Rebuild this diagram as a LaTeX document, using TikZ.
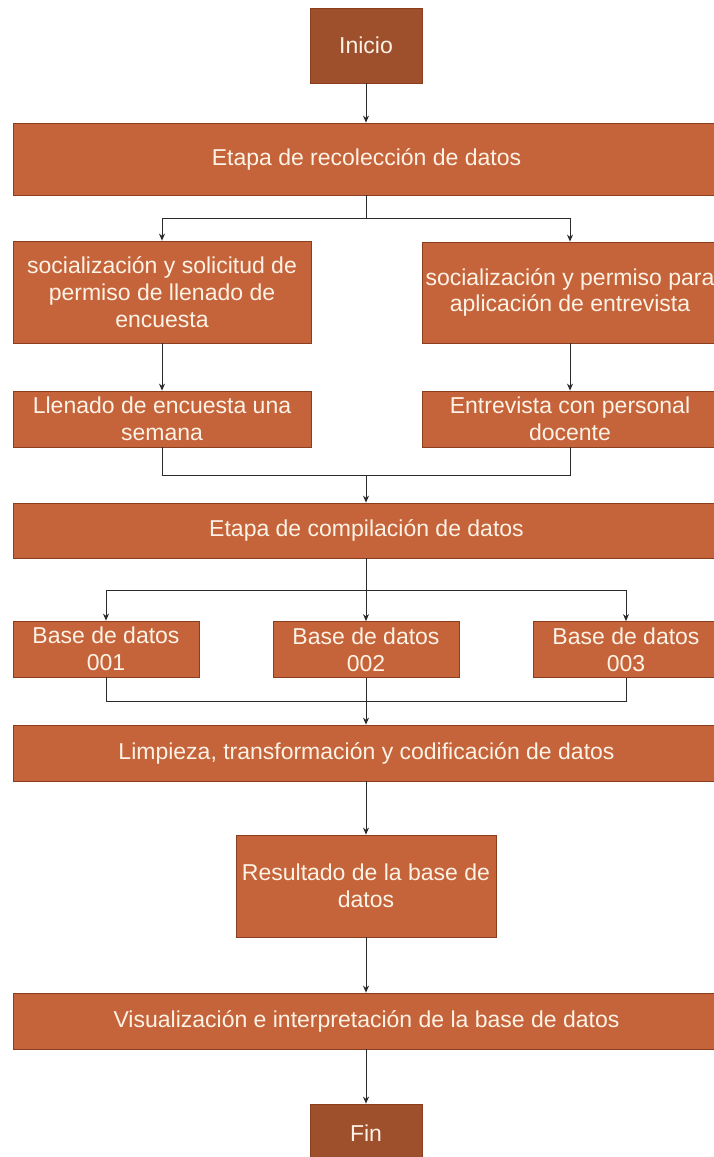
\documentclass[tikz,border=0pt]{standalone}
\usepackage{fontspec}
\setmainfont{Liberation Sans}
\usetikzlibrary{arrows.meta}
\definecolor{boxfill}{HTML}{C5643A}
\definecolor{darkfill}{HTML}{9E4F2C}
\definecolor{boxline}{HTML}{8A3E1E}
\definecolor{boxtext}{HTML}{FDF2E6}
\definecolor{conn}{HTML}{2A2A2A}
\tikzset{
  stagebox/.style={draw=boxline, line width=0.8pt, fill=boxfill, text=boxtext,
    align=center, inner sep=2pt, font=\fontsize{23}{26.7}\selectfont},
  endbox/.style={stagebox, fill=darkfill},
  link/.style={draw=conn, line width=0.9pt},
  arr/.style={link, -{Stealth[length=7pt,width=6pt]}}
}
\begin{document}
\begin{tikzpicture}[x=1pt,y=-1pt]
\useasboundingbox (0,0) rectangle (714,1157);
\clip (0,0) rectangle (714,1157);
\fill[white] (0,0) rectangle (714,1157);
% nodes
\node[endbox, minimum width=112pt, minimum height=75pt] (ini) at (366,45.5) {Inicio};
\node[stagebox, minimum width=707pt, minimum height=72pt] (rec) at (366.5,159) {Etapa de recolección de datos};
\node[stagebox, minimum width=298pt, minimum height=102pt] (s1) at (162,292) {socialización y solicitud de\\permiso de llenado de\\encuesta};
\node[stagebox, minimum width=296pt, minimum height=101pt] (s2) at (570,292.5) {socialización y permiso para\\aplicación de entrevista};
\node[stagebox, minimum width=298pt, minimum height=56pt] (l1) at (162,419) {Llenado de encuesta una\\semana};
\node[stagebox, minimum width=296pt, minimum height=56pt] (l2) at (570,419) {Entrevista con personal\\docente};
\node[stagebox, minimum width=707pt, minimum height=55pt] (comp) at (366.5,530.5) {Etapa de compilación de datos};
\node[stagebox, minimum width=186pt, minimum height=56pt] (b1) at (106,649) {Base de datos\\001};
\node[stagebox, minimum width=186pt, minimum height=56pt] (b2) at (366,649.5) {Base de datos\\002};
\node[stagebox, minimum width=186pt, minimum height=56pt] (b3) at (626,649.5) {Base de datos\\003};
\node[stagebox, minimum width=707pt, minimum height=56pt] (lim) at (366.5,753) {Limpieza, transformación y codificación de datos};
\node[stagebox, minimum width=260pt, minimum height=102pt] (res) at (366,886) {Resultado de la base de\\datos};
\node[stagebox, minimum width=707pt, minimum height=56pt] (vis) at (366.5,1021) {Visualización e interpretación de la base de datos};
\node[endbox, minimum width=112pt, minimum height=58pt] (fin) at (366,1133) {Fin};
% junctions
\coordinate (j1) at (366,218);
\coordinate (j2) at (366,475);
\coordinate (j3) at (366,590);
\coordinate (j4) at (366,701);
% connectors
\draw[arr] (ini.south) -- (ini.south |- rec.north);
\draw[link] (rec.south -| j1) -- (j1);
\draw[arr] (j1) -| (s1.north);
\draw[arr] (j1) -| (s2.north);
\draw[arr] (s1.south) -- (l1.north);
\draw[arr] (s2.south) -- (l2.north);
\draw[link] (l1.south) |- (j2);
\draw[link] (l2.south) |- (j2);
\draw[arr] (j2) -- (j2 |- comp.north);
\draw[link] (comp.south -| j3) -- (j3);
\draw[arr] (j3) -| (b1.north);
\draw[arr] (j3) -- (b2.north);
\draw[arr] (j3) -| (b3.north);
\draw[link] (b1.south) |- (j4);
\draw[link] (b3.south) |- (j4);
\draw[link] (b2.south) -- (j4);
\draw[arr] (j4) -- (j4 |- lim.north);
\draw[arr] (lim.south -| res.north) -- (res.north);
\draw[arr] (res.south) -- (res.south |- vis.north);
\draw[arr] (vis.south -| fin.north) -- (fin.north);
\end{tikzpicture}
\end{document}
